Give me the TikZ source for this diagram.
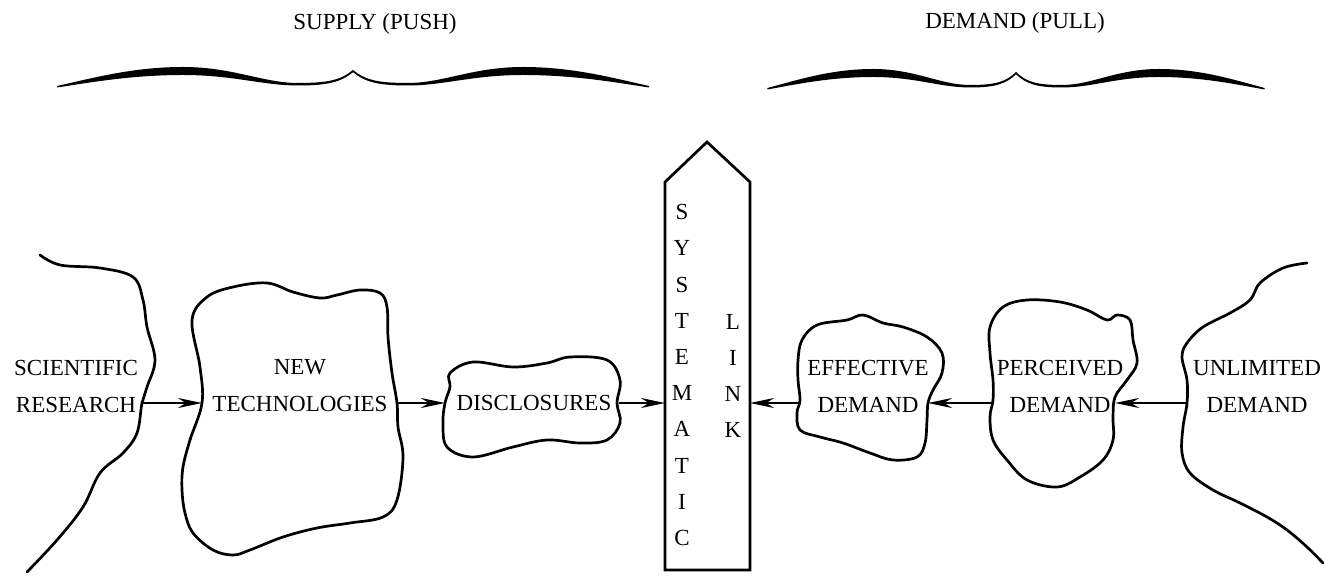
\documentclass[tikz,border=0pt]{standalone}
\usepackage{fontspec}
\setmainfont{Liberation Serif}
\usetikzlibrary{arrows.meta}

\begin{document}
\begin{tikzpicture}[x=0.5pt, y=-0.5pt,
  blob/.style = {line width=1.35pt, line join=round, line cap=round},
  lbl/.style  = {align=center, inner sep=0pt, font=\fontsize{11.5}{18.5}\selectfont},
  arr/.style  = {-{Stealth[length=12pt, width=5pt]}, line width=1pt}
]
  \useasboundingbox (0,0) rectangle (1336,576);

  % Headings
  \node[lbl, anchor=base] (supply) at (375,30) {SUPPLY (PUSH)};
  \node[lbl, anchor=base] (demand) at (1015,29) {DEMAND (PULL)};

  % Braces
  \foreach \cx/\cy/\sc in {353/70/1, 1016/72/0.84}
    \foreach \side in {1,-1}
      \fill[shift={(\cx,\cy)}, xscale=\sc*\side]
        (0,0) .. controls (-12,10) and (-25,13) .. (-55,13)
              .. controls (-90,13) and (-120,-3) .. (-170,-3)
              .. controls (-220,-3) and (-260,8) .. (-296,16)
              -- (-296,17.5)
              .. controls (-260,12) and (-220,5) .. (-170,5)
              .. controls (-120,5) and (-90,15.5) .. (-55,15.5)
              .. controls (-25,15.5) and (-12,12) .. (0,2.2) -- cycle;

  % Supply side
  \draw[blob] plot[smooth, tension=0.6] coordinates {(40,255) (60,265) (100,268) (133,277)
    (143,300) (147,327) (155,360) (147,387) (142,403) (137,433) (123,453) (100,473)
    (83,507) (57,540) (27,572)};
  \node[lbl] (sci) at (76,386) {SCIENTIFIC\\RESEARCH};
  \coordinate (sci-e) at (143,403);

  \draw[blob] plot[smooth cycle, tension=0.6] coordinates {(192,320) (207,297) (233,287)
    (267,283) (293,292) (320,298) (337,295) (360,290) (380,293) (387,307) (388,337)
    (392,373) (397,403) (398,427) (403,457) (397,500) (383,517) (350,523) (317,528)
    (283,537) (250,550) (233,555) (213,550) (193,533) (185,513) (182,490) (183,467)
    (190,440) (202,403) (200,367)};
  \node[lbl] (tech) at (300,386) {NEW\\TECHNOLOGIES};
  \coordinate (tech-w) at (202,403);
  \coordinate (tech-e) at (397,403);

  \draw[blob] plot[smooth cycle, tension=0.6] coordinates {(450,373) (473,362) (513,367)
    (547,363) (570,357) (607,360) (620,380) (617,403) (620,423) (607,440) (580,443)
    (547,440) (513,447) (473,457) (447,447) (443,423) (445,403) (450,387)};
  \node[lbl] (disc) at (534,403) {DISCLOSURES};
  \coordinate (disc-w) at (445,403);
  \coordinate (disc-e) at (619,403);

  % Systematic link
  \draw[blob, line join=miter] (665,570) -- (665,182) -- (707,142) -- (750,182) -- (750,570) -- cycle;
  \foreach \ch [count=\i] in {S,Y,S,T,E,M,A,T,I,C}
    \node[lbl] (sys\i) at (682,176+36.2*\i) {\ch};
  \foreach \ch [count=\i] in {L,I,N,K}
    \node[lbl] (lnk\i) at (733,285.5+36.2*\i) {\ch};
  \coordinate (link-w) at (665,403);
  \coordinate (link-e) at (750,403);

  % Demand side
  \draw[blob] plot[smooth cycle, tension=0.6] coordinates {(802,340) (817,325) (847,320)
    (863,315) (883,323) (903,327) (927,337) (942,353) (942,373) (933,390) (928,403)
    (927,420) (925,443) (917,457) (893,460) (870,453) (843,443) (820,437) (800,430)
    (797,413) (800,400) (798,380) (798,360)};
  \node[lbl] (eff) at (868,386) {EFFECTIVE\\DEMAND};
  \coordinate (eff-w) at (800,403);
  \coordinate (eff-e) at (928,403);

  \draw[blob] plot[smooth cycle, tension=0.6] coordinates {(990,327) (1003,307) (1027,300)
    (1060,302) (1087,310) (1107,320) (1117,315) (1130,320) (1133,340) (1137,363)
    (1127,380) (1115,397) (1113,417) (1113,440) (1103,460) (1080,477) (1057,487)
    (1027,480) (1007,460) (993,440) (990,417) (993,400) (993,380) (990,353)};
  \node[lbl] (perc) at (1060,386) {PERCEIVED\\DEMAND};
  \coordinate (perc-w) at (993,403);
  \coordinate (perc-e) at (1115,403);

  \draw[blob] plot[smooth, tension=0.6] coordinates {(1307,263) (1283,268) (1260,283)
    (1250,300) (1230,313) (1203,327) (1187,343) (1182,357) (1187,380) (1187,403)
    (1183,427) (1182,453) (1190,473) (1213,490) (1240,503) (1267,517) (1287,530)
    (1307,547) (1323,563)};
  \node[lbl] (unl) at (1257,386) {UNLIMITED\\DEMAND};
  \coordinate (unl-w) at (1187,403);

  % Connections
  \draw[arr] (sci-e)  -- (tech-w);
  \draw[arr] (tech-e) -- (disc-w);
  \draw[arr] (disc-e) -- (link-w);
  \draw[arr] (eff-w)  -- (link-e);
  \draw[arr] (perc-w) -- (eff-e);
  \draw[arr] (unl-w)  -- (perc-e);

\end{tikzpicture}
\end{document}
